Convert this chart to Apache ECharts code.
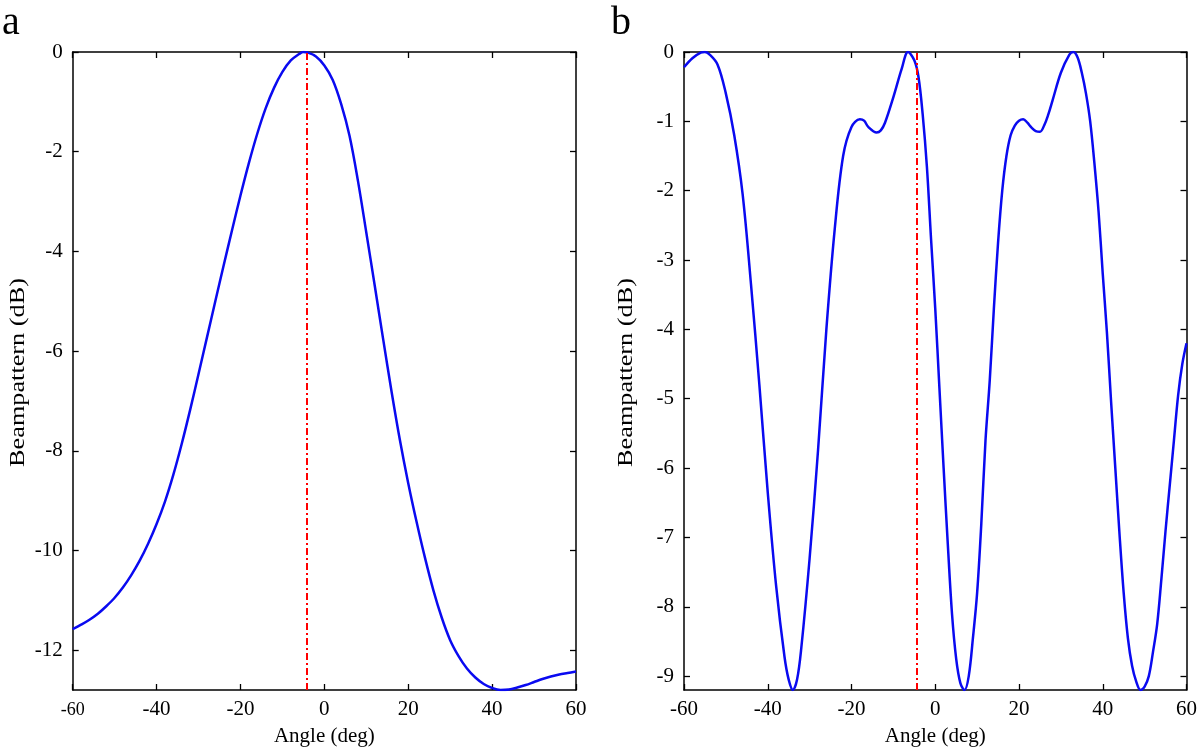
<!DOCTYPE html>
<html><head><meta charset="utf-8">
<script src="https://cdn.jsdelivr.net/npm/echarts@6/dist/echarts.min.js"></script>
<style>html,body{margin:0;padding:0;background:#fff}#c{width:1200px;height:752px}</style>
</head><body><div id="c"></div>
<script>
// ---- data ----
const anglesA = [-60,-58,-56,-54,-52,-50,-48,-46,-44,-42,-40,-38,-36,-34,-32,-30,-28,-26,-24,-22,-20,-18,-16,-14,-12,-10,-8,-6,-5,-4,-2,0,2,4,6,8,10,12,14,16,18,20,22,24,26,28,30,32,34,36,38,40,42,44,46,48,50,52,54,56,58,60];
const beamA = [-11.58,-11.49,-11.39,-11.27,-11.12,-10.95,-10.74,-10.49,-10.2,-9.86,-9.47,-9.02,-8.48,-7.86,-7.18,-6.46,-5.73,-5.0,-4.28,-3.57,-2.88,-2.23,-1.64,-1.13,-0.72,-0.4,-0.17,-0.04,0,-0.01,-0.09,-0.27,-0.56,-1.04,-1.68,-2.58,-3.62,-4.68,-5.75,-6.8,-7.78,-8.65,-9.43,-10.15,-10.8,-11.35,-11.8,-12.12,-12.37,-12.55,-12.68,-12.76,-12.8,-12.79,-12.75,-12.7,-12.64,-12.58,-12.53,-12.49,-12.46,-12.43];
const anglesB = [-60,-58,-56,-55,-54,-52,-50,-48,-46,-44,-42,-40,-38,-36,-35,-34,-33,-32,-30,-28,-26,-24,-22,-20,-18,-17,-16,-14,-13,-12,-10,-8,-6.5,-5,-4,-3,-2,-1,0,1,2,3,4,5,6,7,8,9,10,11,12,13,14,15,16,17,18,19,20,21,22,23,24,25,26,27,28,30,32,33,34,35,36,37,38,39,40,41,42,43,44,45,46,47,48,49,50,51,52,53,54,55,56,57,58,59,60];
const beamB = [-0.22,-0.09,-0.01,0,-0.03,-0.18,-0.6,-1.2,-2.05,-3.35,-4.8,-6.35,-7.7,-8.72,-9.05,-9.2,-9.05,-8.6,-7.3,-5.75,-4.0,-2.55,-1.5,-1.08,-0.97,-0.99,-1.08,-1.16,-1.13,-1.02,-0.65,-0.24,0,-0.12,-0.36,-0.9,-1.65,-2.7,-3.7,-4.85,-6.0,-7.1,-8.1,-8.75,-9.1,-9.2,-9.0,-8.45,-7.8,-6.8,-5.6,-4.75,-3.7,-2.75,-2.0,-1.5,-1.2,-1.06,-0.99,-0.97,-1.02,-1.09,-1.14,-1.15,-1.06,-0.9,-0.7,-0.3,-0.04,0,-0.08,-0.3,-0.6,-1.0,-1.6,-2.3,-3.2,-4.05,-5.05,-6.0,-6.95,-7.8,-8.45,-8.85,-9.08,-9.2,-9.15,-9.0,-8.65,-8.25,-7.6,-6.9,-6.25,-5.6,-4.95,-4.5,-4.2];
const steerAngle = -4.3;
const xTicks = [-60,-40,-20,0,20,40,60];
const yTicksA = [-12,-10,-8,-6,-4,-2,0];
const yTicksB = [-9,-8,-7,-6,-5,-4,-3,-2,-1,0];
const yRangeA = [-12.8, 0];
const yRangeB = [-9.2, 0];
const panelLabels = ['a','b'];
const xName = 'Angle (deg)';
const yName = 'Beampattern (dB)';

// ---- chart ----
const FONT = 'Liberation Serif';
const pair = (xs, ys) => xs.map((x, i) => [x, ys[i]]);
const lineAx = {show: true, onZero: false, lineStyle: {color: '#000', width: 1.5}};
const tickIn = {show: true, inside: true, length: 6, lineStyle: {color: '#000', width: 1.3}};

function xAxes(gi, smallMin) {
  return [{
    type: 'value', gridIndex: gi, position: 'bottom', min: xTicks[0], max: xTicks[xTicks.length - 1], interval: 20,
    axisLine: lineAx, axisTick: tickIn, splitLine: {show: false},
    axisLabel: {
      color: '#000', fontFamily: FONT, fontSize: 21, margin: 9, showMinLabel: true, showMaxLabel: true,
      formatter: v => (smallMin && v === -60) ? '{s|' + v + '}' : String(v),
      rich: {s: {fontSize: 18, fontFamily: FONT, color: '#000', padding: [2, 0, 0, 0]}}
    },
    name: xName, nameLocation: 'middle', nameGap: 36,
    nameTextStyle: {color: '#000', fontFamily: FONT, fontSize: 21}
  }, {
    type: 'value', gridIndex: gi, position: 'top', min: xTicks[0], max: xTicks[xTicks.length - 1], interval: 20,
    axisLine: lineAx, axisTick: tickIn, axisLabel: {show: false}, splitLine: {show: false}
  }];
}
function yAxes(gi, range, ticks) {
  return [{
    type: 'value', gridIndex: gi, position: 'left', min: range[0], max: range[1],
    axisLine: lineAx, splitLine: {show: false},
    axisTick: Object.assign({customValues: ticks}, tickIn),
    axisLabel: {customValues: ticks, color: '#000', fontFamily: FONT, fontSize: 21, margin: 10}
  }, {
    type: 'value', gridIndex: gi, position: 'right', min: range[0], max: range[1],
    axisLine: lineAx, splitLine: {show: false},
    axisTick: Object.assign({customValues: ticks}, tickIn),
    axisLabel: {show: false}
  }];
}
function beamSeries(xi, yi, data) {
  return {
    type: 'line', xAxisIndex: xi, yAxisIndex: yi, data: data, showSymbol: false, smooth: 0.35,
    clip: true, lineStyle: {color: '#0a0af0', width: 2.5}, z: 3,
    markLine: {
      silent: true, symbol: ['none', 'none'], label: {show: false}, animation: false,
      lineStyle: {color: '#ff0000', width: 2, type: [7, 3, 2, 3]},
      data: [{xAxis: steerAngle}]
    }
  };
}
function yTitle(cx) {
  return {
    type: 'text', x: cx, y: 372.5, rotation: Math.PI / 2, scaleX: 1.25, scaleY: 1,
    style: {text: yName, font: '21px "Liberation Serif"', fill: '#000', align: 'center', verticalAlign: 'middle'}
  };
}

const chart = echarts.init(document.getElementById('c'), null, {renderer: 'canvas'});
chart.setOption({
  animation: false,
  backgroundColor: '#fff',
  grid: [
    {left: 72.7, top: 52, width: 503.3, height: 641.3},
    {left: 684, top: 52, width: 504, height: 641.3}
  ],
  xAxis: [...xAxes(0, true), ...xAxes(1, false)],
  yAxis: [...yAxes(0, yRangeA, yTicksA), ...yAxes(1, yRangeB, yTicksB)],
  series: [
    beamSeries(0, 0, pair(anglesA, beamA)),
    beamSeries(2, 2, pair(anglesB, beamB))
  ],
  graphic: [
    {type: 'text', left: 2, top: 3, style: {text: panelLabels[0], font: '40px "Liberation Serif"', fill: '#000'}},
    {type: 'text', left: 611, top: 3, style: {text: panelLabels[1], font: '40px "Liberation Serif"', fill: '#000'}},
    yTitle(18),
    yTitle(626)
  ]
});
</script>
</body></html>
